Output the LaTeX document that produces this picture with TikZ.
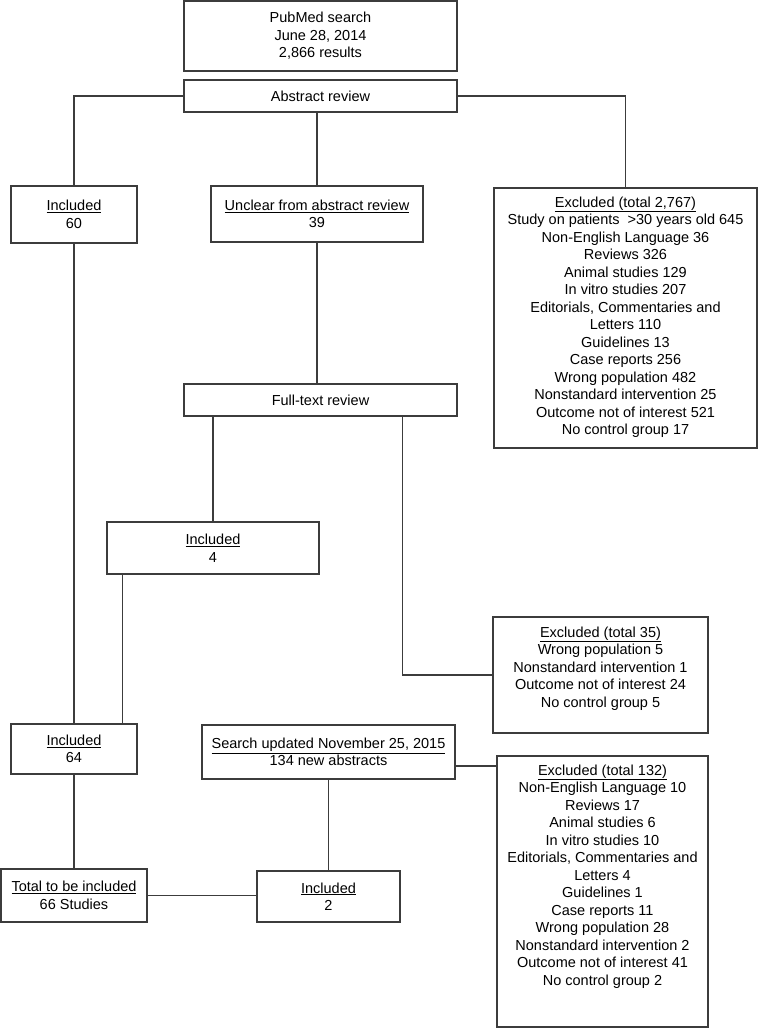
\documentclass[tikz,border=0pt]{standalone}
\usepackage{fontspec}
\setmainfont{Liberation Sans}
\usetikzlibrary{positioning, calc}
\definecolor{lineGray}{RGB}{60,60,60}

\begin{document}
\begin{tikzpicture}[x=1pt, y=1pt,
  box/.style={draw=lineGray, line width=1.1pt, align=center, inner sep=0pt,
              font=\fontsize{14.5}{17.5}\selectfont},
  txt/.style={align=center, inner sep=0pt, font=\fontsize{14.5}{17.5}\selectfont},
  link/.style={draw=lineGray, line width=1.1pt}]
  \useasboundingbox (0,0) rectangle (758,-1028);
  % first search
  \node[box, minimum width=273pt, minimum height=70pt] (pub) at (320.5,-36)
       {PubMed search\\June 28, 2014\\2,866 results};
  \node[box, minimum width=273pt, minimum height=32pt] (abs) at (320.5,-96) {Abstract review};
  \node[box, minimum width=126pt, minimum height=57pt] (inc60) at (74,-214.5) {\underline{Included}\\60};
  \node[box, minimum width=212pt, minimum height=56pt] (unc) at (317,-214)
       {\underline{Unclear from abstract review}\\39};
  \node[box, minimum width=263pt, minimum height=260pt] (exA) at (625.5,-318) {};
  \node[txt, below=9pt of exA.north] (exAt) {\underline{Excluded (total 2,767)}\\
       Study on patients~ >30 years old 645\\Non-English Language 36\\Reviews 326\\
       Animal studies 129\\In vitro studies 207\\Editorials, Commentaries and\\Letters 110\\
       Guidelines 13\\Case reports 256\\Wrong population 482\\Nonstandard intervention 25\\
       Outcome not of interest 521\\No control group 17};
  % full text
  \node[box, minimum width=273pt, minimum height=32pt] (full) at (320.5,-400) {Full-text review};
  \node[box, minimum width=212pt, minimum height=52pt] (inc4) at (213,-548) {\underline{Included}\\4};
  \node[box, minimum width=215pt, minimum height=116pt] (exB) at (600.5,-675) {};
  \node[txt, below=10pt of exB.north] (exBt) {\underline{Excluded (total 35)}\\Wrong population 5\\
       Nonstandard intervention 1\\Outcome not of interest 24\\No control group 5};
  % update
  \node[box, minimum width=126pt, minimum height=50pt] (inc64) at (74,-749) {\underline{Included}\\64};
  \node[box, minimum width=253pt, minimum height=54pt] (srch) at (328.5,-752)
       {\underline{Search updated November 25, 2015}\\134 new abstracts};
  \node[box, minimum width=211pt, minimum height=271pt] (exC) at (602.5,-891.5) {};
  \node[txt, below=9pt of exC.north] (exCt) {\underline{Excluded (total 132)}\\
       Non-English Language 10\\Reviews 17\\Animal studies 6\\In vitro studies 10\\
       Editorials, Commentaries and\\Letters 4\\Guidelines 1\\Case reports 11\\
       Wrong population 28\\Nonstandard intervention 2\\Outcome not of interest 41\\
       No control group 2};
  \node[box, minimum width=146pt, minimum height=53pt] (tot) at (74,-895.5)
       {\underline{Total to be included}\\66 Studies};
  \node[box, minimum width=143pt, minimum height=51pt] (inc2) at (328.5,-896.5) {\underline{Included}\\2};
  % connectors
  \draw[link] (abs.west) -| (inc60.north);
  \draw[link] (abs.east) -| (exA.north);
  \draw[link] (abs.south -| unc.north) -- (unc.north);
  \draw[link] (unc.south) -- (unc.south |- full.north);
  \draw[link] (inc4.north |- full.south) -- (inc4.north);
  \draw[link] ([xshift=82pt]full.south) |- (exB.west);
  \draw[link] (inc60.south) -- (inc64.north);
  \coordinate (c4) at ([xshift=16pt]inc4.south west);
  \draw[link] (c4) -- (c4 |- inc64.north);
  \coordinate (s1) at ([yshift=-14pt]srch.east);
  \draw[link] (s1) -- (s1 -| exC.west);
  \draw[link] (srch.south -| inc2.north) -- (inc2.north);
  \draw[link] (inc64.south) -- (tot.north);
  \draw[link] (tot.east) -- (tot.east -| inc2.west);
\end{tikzpicture}
\end{document}
